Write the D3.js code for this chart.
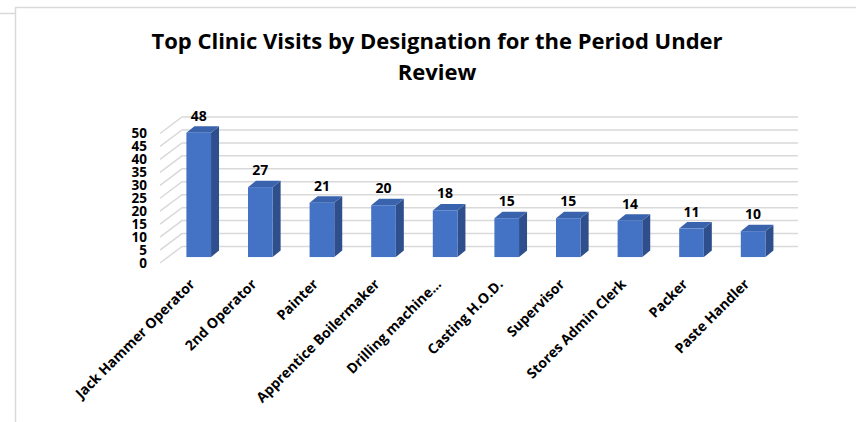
<!DOCTYPE html>
<html>
<head>
<meta charset="utf-8">
<title>Top Clinic Visits by Designation</title>
<script src="https://cdn.jsdelivr.net/npm/d3@7/dist/d3.min.js"></script>
<style>
	body { margin: 0; background: #fff; }
	text { font-family: "Open Sans", "Liberation Sans", sans-serif; font-weight: 700; fill: #000; }
	.grid { stroke: #d9d9d9; stroke-width: 1.5; fill: none; }
	.frame { stroke: #d9d9d9; stroke-width: 1.5; fill: none; }
</style>
</head>
<body>
<div id="chart"></div>
<script>
var categories = ["Jack Hammer Operator", "2nd Operator", "Painter", "Apprentice Boilermaker",
	"Drilling machine...", "Casting H.O.D.", "Supervisor", "Stores Admin Clerk", "Packer", "Paste Handler"];
var visits = [48, 27, 21, 20, 18, 15, 15, 14, 11, 10];
var yTicks = [0, 5, 10, 15, 20, 25, 30, 35, 40, 45, 50];

var width = 856, height = 422;

// depth of the 3d box: front plane -> back wall
var depth = {dx: 22, dy: -16.5};
// bars sit in the middle of the depth
var barFront = 0.36;
var bdx = 8, bdy = -6.5; // bar thickness

var svg = d3.select("#chart").append("svg")
	.attr("width", width)
	.attr("height", height);

// outer frame pieces
svg.append("path").attr("class", "frame").attr("d", "M15.5,422V7.5H856");
svg.append("path").attr("class", "frame").attr("d", "M0,13.5H15");

// title
var title = svg.append("text")
	.attr("text-anchor", "middle")
	.style("font-size", "22px");
title.append("tspan").attr("x", 437).attr("y", 49).text("Top Clinic Visits by Designation for the Period Under");
title.append("tspan").attr("x", 437).attr("y", 80).text("Review");

// scales in front-plane coordinates
var x = d3.scaleBand()
	.domain(categories)
	.range([160, 776])
	.paddingInner(0.6)
	.paddingOuter(0.3);

var y = d3.scaleLinear()
	.domain([0, 50])
	.range([263, 133.5]);

var x0 = x.range()[0], x1 = x.range()[1];

// gridlines: back wall + left side wall
var grid = svg.append("g");
yTicks.forEach(function(t) {
	var yf = y(t);
	grid.append("path").attr("class", "grid")
		.attr("d", "M" + x0 + "," + yf +
			"L" + (x0 + depth.dx) + "," + (yf + depth.dy) +
			"H" + (x1 + depth.dx));
});

// y axis labels
svg.append("g").selectAll("text")
	.data(yTicks)
	.join("text")
		.attr("x", 147)
		.attr("y", function(d) { return y(d); })
		.attr("dy", "0.36em")
		.attr("text-anchor", "end")
		.style("font-size", "13.5px")
		.text(function(d) { return d; });

// 3d bars
var fdx = depth.dx * barFront, fdy = depth.dy * barFront;

var bars = svg.append("g").selectAll("g")
	.data(categories)
	.join("g");

bars.each(function(c, i) {
	var g = d3.select(this);
	var left = x(c) + fdx, right = left + x.bandwidth();
	var top = y(visits[i]) + fdy, bottom = y(0) + fdy;
	// side face
	g.append("path")
		.attr("fill", "#2f4f8c")
		.attr("d", "M" + right + "," + bottom + "L" + (right + bdx) + "," + (bottom + bdy) +
			"L" + (right + bdx) + "," + (top + bdy) + "L" + right + "," + top + "Z");
	// top face
	g.append("path")
		.attr("fill", "#3a63ad")
		.attr("d", "M" + left + "," + top + "L" + (left + bdx) + "," + (top + bdy) +
			"L" + (right + bdx) + "," + (top + bdy) + "L" + right + "," + top + "Z");
	// front face
	g.append("rect")
		.attr("fill", "#4472c4")
		.attr("x", left)
		.attr("y", top)
		.attr("width", x.bandwidth())
		.attr("height", bottom - top);
	// value label
	g.append("text")
		.attr("x", left + x.bandwidth() / 2)
		.attr("y", top - 12)
		.attr("text-anchor", "middle")
		.style("font-size", "14px")
		.text(visits[i]);
});

// category labels, rotated
svg.append("g").selectAll("text")
	.data(categories)
	.join("text")
		.attr("text-anchor", "end")
		.style("font-size", "14px")
		.attr("transform", function(d) {
			return "translate(" + (x(d) + x.bandwidth() / 2 + 5) + ",285) rotate(-45)";
		})
		.text(function(d) { return d; });
</script>
</body>
</html>
